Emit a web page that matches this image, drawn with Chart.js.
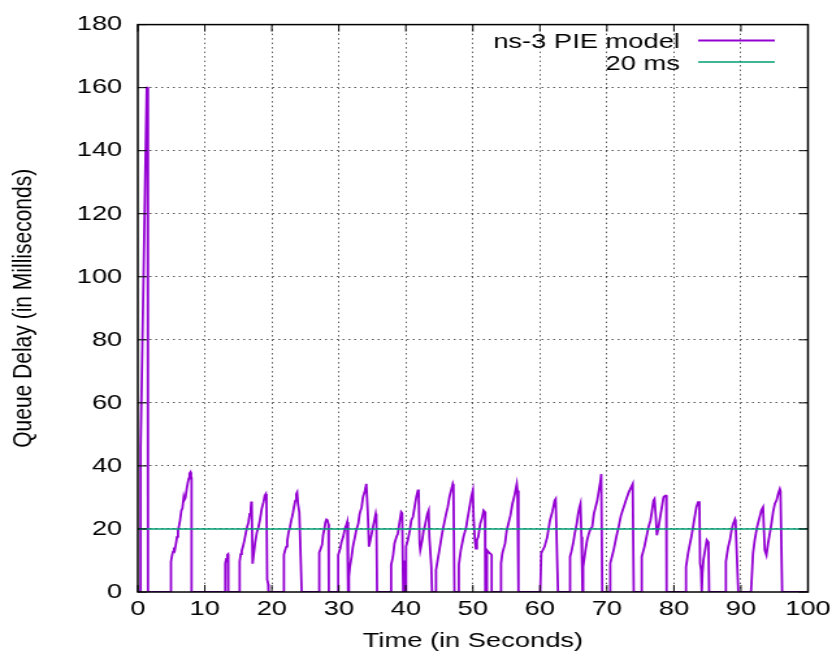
<!DOCTYPE html>
<html>
<head>
<meta charset="utf-8">
<title>PIE queue delay</title>
<script src="https://cdn.jsdelivr.net/npm/chart.js@4.4.1/dist/chart.umd.min.js"></script>
<style>
  html, body { margin: 0; padding: 0; background: #fff; overflow: hidden; }
  /* the plot is laid out on a 646px canvas and widened 1.3x, so type and strokes come out broad */
  #wrap { width: 646px; height: 657px; transform: scaleX(1.3); transform-origin: 0 0; }
</style>
</head>
<body>
<div id="wrap"><canvas id="delayChart" width="646" height="657"></canvas></div>
<script>
// queue delay trace, one line per burst (seconds / milliseconds)
const timeSec = [
  0, 0.4, 0.42, 1.33, 1.47, 1.49, 1.5, 1.52, 1.54, 1.55,
  4.95, 4.95, 5.1, 5.25, 5.4, 5.5, 5.7, 5.85, 6.0, 6.15, 6.3, 6.5, 6.65, 6.85, 6.95, 7.1, 7.3, 7.45, 7.6, 7.72, 7.85, 7.95, 8.02, 8.02,
  13.05, 13.05, 13.2, 13.35, 13.45, 13.5, 13.5,
  15.2, 15.2, 15.35, 15.5, 15.7, 15.9, 16.1, 16.3, 16.5, 16.7, 16.85, 16.94, 17.0, 17.13, 17.3, 17.5, 17.77, 18.0, 18.25, 18.5, 18.75, 18.95, 19.1, 19.2, 19.3, 19.45, 19.5,
  21.8, 21.8, 21.95, 22.15, 22.3, 22.5, 22.7, 22.9, 23.1, 23.3, 23.5, 23.65, 23.77, 23.9, 24.1, 24.46,
  27.0, 27.0, 27.15, 27.3, 27.5, 27.65, 27.8, 28.0, 28.15, 28.3, 28.45, 28.5,
  29.9, 29.9, 30.2, 30.4, 30.65, 30.9, 31.15, 31.25, 31.35, 31.4, 31.45, 31.5, 31.65, 31.9, 32.1, 32.4, 32.6, 32.9, 33.1, 33.4, 33.6, 33.9, 34.1, 34.3, 34.5, 34.7, 35.0, 35.3, 35.5, 35.6, 35.7,
  37.8, 37.8, 38.0, 38.1, 38.3, 38.6, 38.8, 39.1, 39.3, 39.45, 39.6,
  39.7, 39.72, 39.8, 39.85, 39.97, 40.0, 40.05, 40.3, 40.6, 40.8, 41.05, 41.3, 41.55, 41.8, 41.9, 42.05, 42.15, 42.45, 42.65, 42.8, 43.0, 43.2, 43.4, 43.5, 43.8, 43.9,
  44.5, 44.5, 44.75, 45.0, 45.25, 45.5, 45.75, 46.0, 46.25, 46.5, 46.75, 47.0, 47.1, 47.25,
  47.9, 47.9, 48.2, 48.6, 49.0, 49.2, 49.5, 49.8, 50.0, 50.1, 50.3, 50.45, 50.6, 50.8, 51.1, 51.35, 51.6, 51.8, 51.85,
  52.1, 52.1, 52.3, 52.5, 52.7, 52.8, 52.8,
  54.2, 54.2, 54.4, 54.8, 55.05, 55.3, 55.6, 55.9, 56.2, 56.4, 56.55, 56.65, 56.8,
  60.05, 60.2, 60.7, 61.1, 61.5, 61.85, 62.2, 62.35, 62.6, 62.7,
  64.45, 64.5, 64.7, 65.0, 65.2, 65.5, 65.7, 65.9, 66.05, 66.2, 66.3, 66.35, 66.45, 66.8, 67.05, 67.3, 67.55, 67.8, 68.05, 68.3, 68.55, 68.8, 69.05, 69.15, 69.3,
  70.5, 70.5, 71.0, 71.4, 71.8, 72.1, 72.5, 72.9, 73.25, 73.6, 73.85, 74.0,
  75.2, 75.2, 75.6, 76.0, 76.2, 76.5, 76.7, 76.95, 77.1, 77.3, 77.45, 77.7, 77.95, 78.2, 78.45, 78.7, 78.85, 78.9,
  81.8, 81.8, 82.1, 82.3, 82.6, 82.85, 83.1, 83.35, 83.6, 83.8, 83.9, 84.05, 84.15, 84.25, 84.4, 84.65, 84.9, 85.15, 85.25,
  87.75, 87.75, 88.1, 88.35, 88.6, 88.85, 89.1, 89.2, 89.6,
  91.5, 91.8, 92.05, 92.4, 92.8, 93.05, 93.3, 93.45, 93.55, 93.8, 94.05, 94.3, 94.55, 94.8, 95.05, 95.3, 95.55, 95.8, 95.9, 96.15, 100
];
const queueDelayMs = [
  0, 0, 46, 160, 160, 77, 64, 76, 65, 0,
  0, 9.6, 11.5, 12.8, 13.3, 13.0, 15.4, 17.5, 19.6, 21.0, 22.7, 25.9, 26.5, 30.1, 29.2, 29.8, 32.7, 34.5, 36.0, 37.6, 38.0, 36.5, 36.2, 0,
  0, 9.1, 10.5, 11.8, 12.0, 11.3, 0,
  0, 9.6, 12.0, 13.0, 14.5, 16.4, 18.5, 20.6, 22.0, 24.8, 26.5, 28.7, 27.5, 9.0, 12.0, 15.6, 19.0, 20.5, 23.2, 26.5, 28.5, 30.6, 31.1, 29.0, 4.0, 2.5, 0,
  0, 11.8, 13.0, 14.4, 16.2, 19.0, 20.5, 22.7, 24.5, 26.9, 29.0, 31.1, 31.6, 28.0, 25.3, 0,
  0, 11.1, 12.5, 13.8, 15.0, 18.2, 19.5, 22.2, 23.0, 22.7, 21.5, 0,
  0, 11.7, 13.8, 15.9, 17.5, 20.1, 21.5, 22.2, 20.0, 0, 0, 4.9, 8.0, 11.2, 14.4, 17.5, 19.6, 21.7, 24.8, 26.9, 30.1, 32.2, 34.3, 25.9, 14.4, 16.5, 19.6, 22.7, 24.8, 23.5, 0,
  0, 8.6, 10.5, 11.7, 15.4, 17.5, 18.5, 22.7, 25.4, 25.0, 0,
  0, 7.0, 0, 10.0, 0, 13.3, 14.4, 16.5, 19.6, 22.7, 23.8, 26.9, 30.1, 32.2, 32.5, 15.4, 13.3, 16.5, 19.6, 20.6, 22.7, 24.8, 25.9, 17.5, 8.0, 0,
  0, 7.0, 10.2, 13.3, 16.5, 19.6, 22.2, 24.8, 26.9, 30.1, 32.2, 34.3, 33.5, 0,
  0, 8.6, 13.3, 17.5, 20.6, 23.3, 26.9, 30.6, 32.2, 23.8, 16.4, 13.8, 16.4, 17.5, 21.7, 23.3, 25.9, 25.4, 0,
  0, 13.3, 12.8, 12.3, 12.0, 11.7, 0,
  0, 9.1, 12.3, 15.4, 19.6, 21.7, 24.3, 28.0, 30.6, 32.7, 34.3, 32.2, 0,
  0, 12.3, 14.4, 17.5, 22.7, 25.4, 29.0, 29.5, 8.1, 0,
  0, 11.2, 12.8, 15.9, 18.5, 21.7, 24.8, 26.9, 28.0, 17.5, 7.0, 0, 8.0, 13.3, 16.5, 18.5, 20.1, 20.6, 24.8, 26.9, 29.0, 32.2, 35.3, 37.4, 0,
  0, 9.1, 13.3, 17.5, 21.2, 24.3, 26.9, 29.5, 31.6, 33.2, 34.3, 0,
  0, 11.2, 14.4, 18.5, 20.6, 22.7, 25.4, 29.0, 29.5, 23.8, 18.0, 20.6, 23.8, 26.9, 30.1, 30.6, 30.6, 0,
  0, 8.0, 12.2, 14.4, 17.5, 20.6, 23.8, 26.9, 28.5, 28.5, 9.1, 7.0, 0, 6.0, 10.2, 13.3, 16.5, 15.8, 0,
  0, 9.6, 14.4, 16.4, 19.6, 21.7, 23.0, 22.0, 0,
  0, 12.2, 16.4, 20.6, 23.8, 25.9, 26.9, 18.5, 13.3, 11.7, 15.4, 18.5, 21.7, 25.4, 28.0, 29.0, 31.1, 32.7, 32.0, 0, 0
];

// 20 ms reference delay
const targetTimeSec = [0, 100];
const targetDelayMs = [20, 20];

const seriesLabels = ['ns-3 PIE model', '20 ms'];
const xTicks = [0, 10, 20, 30, 40, 50, 60, 70, 80, 90, 100];
const yTicks = [0, 20, 40, 60, 80, 100, 120, 140, 160, 180];

if (timeSec.length !== queueDelayMs.length) {
  console.error('trace arrays differ in length', timeSec.length, queueDelayMs.length);
}

const FONT = '"Liberation Sans", Arial, Helvetica, sans-serif';
Chart.defaults.font.family = FONT;
Chart.defaults.font.size = 21;
Chart.defaults.color = '#000';

function toPoints(xs, ys) {
  return xs.map((x, i) => ({ x: x, y: ys[i] }));
}

// border plus inward tics on all four sides, drawn over the curves
const framePlugin = {
  id: 'gnuplotFrame',
  afterDatasetsDraw(chart) {
    const { ctx, chartArea: a, scales } = chart;
    const len = 7;
    ctx.save();
    ctx.strokeStyle = '#000';
    ctx.lineWidth = 1;
    ctx.beginPath();
    xTicks.forEach(v => {
      const px = scales.x.getPixelForValue(v);
      ctx.moveTo(px, a.bottom); ctx.lineTo(px, a.bottom - len);
      ctx.moveTo(px, a.top); ctx.lineTo(px, a.top + len);
    });
    yTicks.forEach(v => {
      const py = scales.y.getPixelForValue(v);
      ctx.moveTo(a.left, py); ctx.lineTo(a.left + len, py);
      ctx.moveTo(a.right, py); ctx.lineTo(a.right - len, py);
    });
    ctx.stroke();
    ctx.lineWidth = 1.5;
    ctx.strokeRect(a.left, a.top, a.right - a.left, a.bottom - a.top);
    ctx.restore();
  }
};

// key in the top right corner: label, then a short line sample
const keyPlugin = {
  id: 'insideKey',
  afterDraw(chart) {
    const ctx = chart.ctx;
    ctx.save();
    ctx.font = '21px ' + FONT;
    ctx.textAlign = 'right';
    ctx.textBaseline = 'alphabetic';
    chart.data.datasets.forEach((ds, i) => {
      const y = 40.5 + i * 21.5;
      ctx.fillStyle = '#000';
      ctx.fillText(ds.label, 523, y + 7.5);
      ctx.strokeStyle = ds.borderColor;
      ctx.lineWidth = ds.borderWidth;
      ctx.beginPath();
      ctx.moveTo(537, y);
      ctx.lineTo(596, y);
      ctx.stroke();
    });
    ctx.restore();
  }
};

function gridColor(max) {
  return c => (c.tick && (c.tick.value === 0 || c.tick.value === max)) ? 'rgba(0,0,0,0)' : 'rgba(0,0,0,0.65)';
}

new Chart(document.getElementById('delayChart'), {
  type: 'scatter',
  data: {
    datasets: [
      {
        label: seriesLabels[0],
        data: toPoints(timeSec, queueDelayMs),
        showLine: true,
        borderColor: '#9400D3',
        borderWidth: 1.8,
        pointRadius: 0,
        tension: 0,
        order: 1
      },
      {
        label: seriesLabels[1],
        data: toPoints(targetTimeSec, targetDelayMs),
        showLine: true,
        borderColor: '#009E73',
        borderWidth: 1.4,
        pointRadius: 0,
        order: 0
      }
    ]
  },
  options: {
    responsive: false,
    animation: false,
    layout: { padding: { top: 20, right: 24.5, bottom: 0, left: 0 } },
    plugins: {
      legend: { display: false },
      tooltip: { enabled: false }
    },
    scales: {
      x: {
        type: 'linear',
        min: 0,
        max: 100,
        afterFit: s => { s.height = 65; },
        afterBuildTicks: s => { s.ticks = xTicks.map(v => ({ value: v })); },
        ticks: { padding: 5, maxRotation: 0, autoSkip: false },
        grid: { drawTicks: false, color: gridColor(100), lineWidth: 1 },
        border: { display: false, dash: [1.5, 3] },
        title: { display: true, text: 'Time (in Seconds)', padding: { top: 0, bottom: 3 } }
      },
      y: {
        type: 'linear',
        min: 0,
        max: 180,
        afterFit: s => { s.width = 106; },
        afterBuildTicks: s => { s.ticks = yTicks.map(v => ({ value: v })); },
        ticks: { padding: 12 },
        grid: { drawTicks: false, color: gridColor(180), lineWidth: 1 },
        border: { display: false, dash: [1.5, 3] },
        title: { display: true, text: 'Queue Delay (in Milliseconds)', padding: { top: 6, bottom: 0 } }
      }
    }
  },
  plugins: [framePlugin, keyPlugin]
});
</script>
</body>
</html>
